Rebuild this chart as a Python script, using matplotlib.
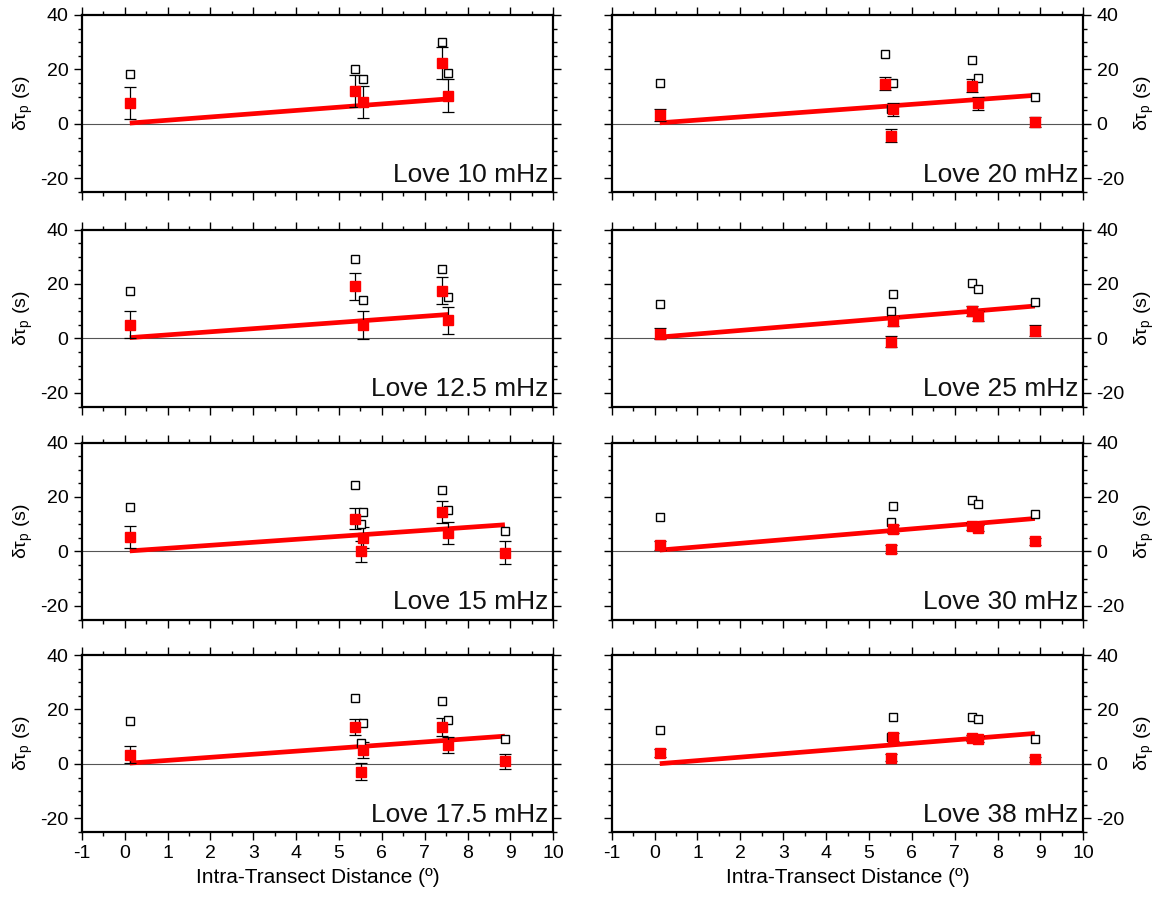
import numpy as np
import matplotlib
matplotlib.use("Agg")
import matplotlib.pyplot as plt
from matplotlib.ticker import MultipleLocator

plt.rcParams['font.family'] = ['Liberation Sans', 'DejaVu Sans']
plt.rcParams['mathtext.fontset'] = 'custom'
plt.rcParams['mathtext.rm'] = 'Liberation Sans'
plt.rcParams['mathtext.it'] = 'Liberation Sans'
plt.rcParams['axes.unicode_minus'] = False

# station distances (deg)
x5 = [0.12, 5.38, 5.57, 7.40, 7.55]
x7 = [0.12, 5.38, 5.51, 5.57, 7.40, 7.55, 8.87]
x6 = [0.12, 5.51, 5.57, 7.40, 7.55, 8.87]

labels = ['Love 10 mHz', 'Love 20 mHz', 'Love 12.5 mHz', 'Love 25 mHz',
          'Love 15 mHz', 'Love 30 mHz', 'Love 17.5 mHz', 'Love 38 mHz']
xs = [x5, x7, x5, x6, x7, x6, x7, x6]

# open squares
open_vals = [
    [18.5, 20.2, 16.5, 29.9, 18.6],
    [15.0, 25.7, 5.6, 15.1, 23.3, 16.7, 9.8],
    [17.4, 29.0, 14.3, 25.4, 15.1],
    [12.6, 9.9, 16.3, 20.5, 18.0, 13.4],
    [16.3, 24.4, 10.0, 14.5, 22.7, 15.3, 7.5],
    [12.5, 10.7, 16.8, 18.8, 17.4, 13.7],
    [15.7, 24.1, 7.5, 15.0, 23.0, 16.3, 9.2],
    [12.4, 10.0, 17.2, 17.2, 16.5, 9.1],
]
# red filled squares
red_vals = [
    [7.7, 12.1, 8.0, 22.4, 10.4],
    [3.4, 14.8, -4.3, 5.3, 14.1, 7.5, 0.7],
    [5.1, 19.1, 4.9, 17.6, 6.6],
    [1.8, -1.2, 6.4, 10.0, 8.2, 2.9],
    [5.3, 12.1, 0.0, 5.1, 14.5, 6.7, -0.4],
    [2.2, 0.9, 8.2, 9.2, 8.6, 3.7],
    [3.4, 13.6, -2.8, 5.1, 13.6, 6.9, 0.9],
    [4.0, 2.2, 9.9, 9.6, 9.2, 1.7],
]
red_err = [
    [6.0, 6.0, 6.0, 6.0, 6.0],
    [2.2, 2.4, 2.5, 2.5, 2.3, 2.4, 2.0],
    [5.0, 5.0, 5.0, 5.0, 5.0],
    [2.0, 2.0, 1.8, 1.9, 1.9, 2.0],
    [4.0, 4.0, 4.0, 4.0, 4.0, 4.0, 4.2],
    [1.5, 1.5, 1.4, 1.3, 1.2, 1.4],
    [3.1, 3.0, 3.1, 3.0, 3.2, 3.0, 2.9],
    [1.3, 1.3, 1.3, 1.2, 1.1, 1.0],
]
# fitted line end values (at min and max distance)
fit_start = [0.3, 0.4, 0.3, 0.5, 0.2, 0.5, 0.3, 0.1]
fit_end = [9.2, 10.5, 8.8, 11.9, 9.8, 12.1, 10.2, 11.2]

fig = plt.figure(figsize=(11.63, 8.98), dpi=100)
lefts = [0.0703, 0.526]
bottoms = [0.7862, 0.5473, 0.3101, 0.0735]
w, h = 0.4055, 0.1971

for i in range(8):
    row, col = i // 2, i % 2
    ax = fig.add_axes([lefts[col], bottoms[row], w, h])
    x = xs[i]
    ax.axhline(0, color='#555555', lw=0.8, zorder=1)
    ax.plot([min(x), max(x)], [fit_start[i], fit_end[i]], color='red', lw=3.4,
            solid_capstyle='butt', zorder=2)
    ax.errorbar(x, red_vals[i], yerr=red_err[i], fmt='none', ecolor='black',
                elinewidth=0.9, capsize=4, capthick=0.9, zorder=3)
    ax.plot(x, open_vals[i], 's', ms=6.2, mfc='white', mec='black', mew=1.0,
            zorder=4, linestyle='none')
    ax.plot(x, red_vals[i], 's', ms=6.5, mfc='red', mec='red', zorder=5,
            linestyle='none')
    ax.text(0.99, 0.03, labels[i], transform=ax.transAxes, ha='right', va='bottom',
            fontsize=19, color='#111111')

    ax.set_xlim(-1, 10)
    ax.set_ylim(-25, 40)
    ax.xaxis.set_major_locator(MultipleLocator(1))
    ax.xaxis.set_minor_locator(MultipleLocator(0.5))
    ax.yaxis.set_major_locator(MultipleLocator(20))
    ax.yaxis.set_minor_locator(MultipleLocator(5))
    ax.tick_params(which='both', direction='out', top=True, right=True,
                   labelsize=14, width=1.0)
    ax.tick_params(which='major', length=6)
    ax.tick_params(which='minor', length=3)
    for s in ax.spines.values():
        s.set_linewidth(1.6)

    if row < 3:
        ax.tick_params(labelbottom=False)
    else:
        ax.set_xlabel('Intra-Transect Distance (º)', fontsize=15)
    ylab = r'$\delta\tau_{\rm p}$ (s)'
    if col == 0:
        ax.set_ylabel(ylab, fontsize=14, labelpad=4)
    else:
        ax.tick_params(labelleft=False, labelright=True)
        ax.yaxis.set_label_position('right')
        ax.set_ylabel(ylab, fontsize=14, labelpad=6)

fig.savefig('out.png', dpi=100)
